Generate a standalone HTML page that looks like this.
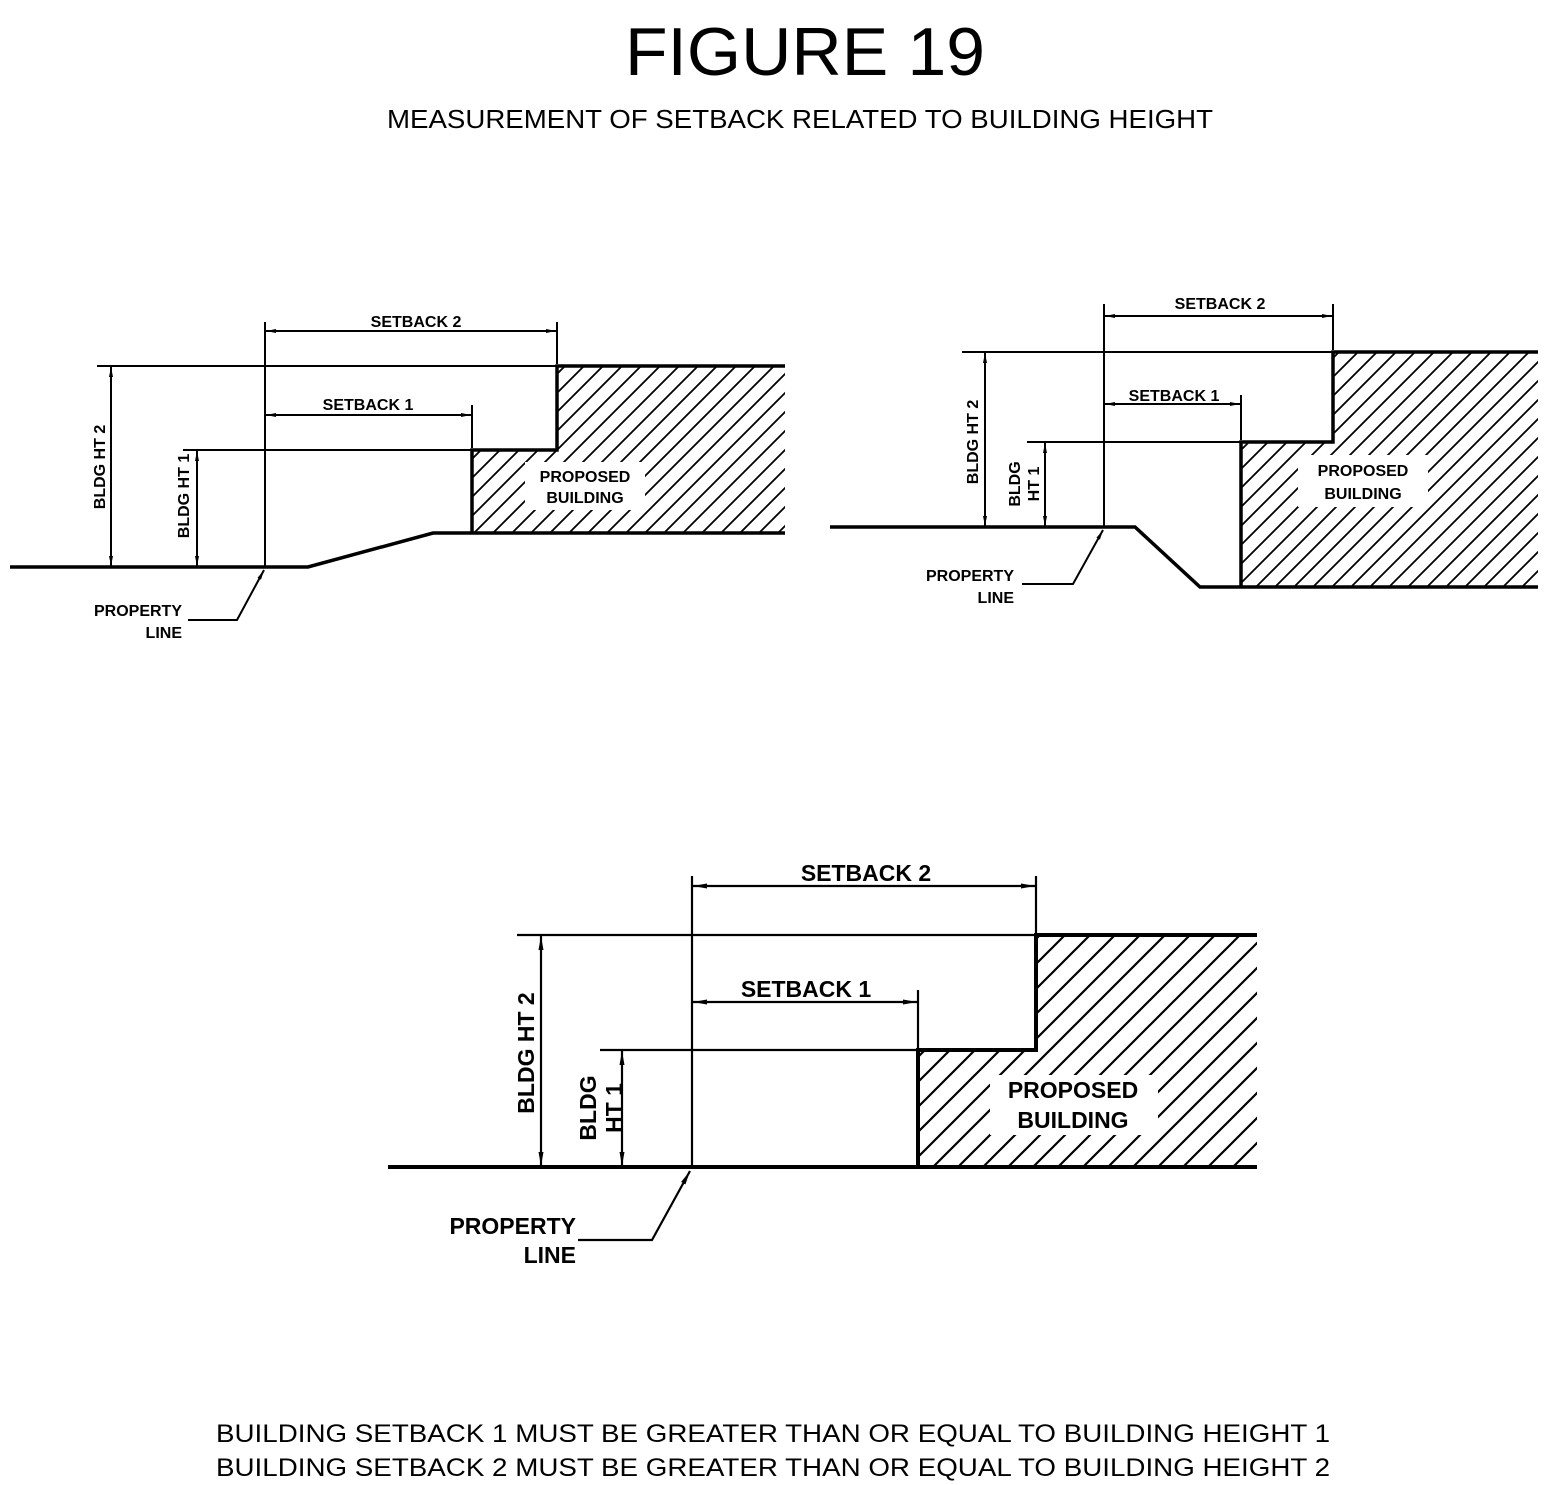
<!DOCTYPE html>
<html><head><style>
html,body{margin:0;padding:0;background:#fff;}
svg{display:block;}
text{font-family:"Liberation Sans",Arial,sans-serif;fill:#000;}
.b{font-weight:bold;}
</style></head><body>
<svg width="1560" height="1485" viewBox="0 0 1560 1485" xmlns="http://www.w3.org/2000/svg">
<defs>
<pattern id="h1" patternUnits="userSpaceOnUse" width="19" height="19">
<path d="M-2,21 L21,-2 M-2,2 L2,-2 M17,21 L21,17" stroke="#000" stroke-width="1.8"/>
</pattern>
<pattern id="h3" patternUnits="userSpaceOnUse" width="25" height="25">
<path d="M-2,27 L27,-2 M-2,2 L2,-2 M23,27 L27,23" stroke="#000" stroke-width="2.2"/>
</pattern>
<marker id="a" viewBox="0 0 10 4" refX="10" refY="2" markerWidth="10" markerHeight="4" markerUnits="userSpaceOnUse" orient="auto-start-reverse">
<path d="M0,0 L10,2 L0,4z" fill="#000"/>
</marker>
<marker id="A" viewBox="0 0 14 5" refX="14" refY="2.5" markerWidth="14" markerHeight="5" markerUnits="userSpaceOnUse" orient="auto-start-reverse">
<path d="M0,0 L14,2.5 L0,5z" fill="#000"/>
</marker>
</defs>

<text x="625" y="75" font-size="68" textLength="360" lengthAdjust="spacingAndGlyphs">FIGURE 19</text>
<text x="387" y="128" font-size="26" textLength="826" lengthAdjust="spacingAndGlyphs">MEASUREMENT OF SETBACK RELATED TO BUILDING HEIGHT</text>

<!-- Diagram 1 -->
<g stroke="#000" fill="none">
<path d="M472,533 L472,450 L557,450 L557,366 L785,366 L785,533 Z" fill="url(#h1)" stroke="none"/>
<rect x="525" y="462" width="120" height="48" fill="#fff" stroke="none"/>
<polyline points="10,567 308,567 433,533 785,533" stroke-width="3.5"/>
<polyline points="472,533 472,450 557,450 557,366 785,366" stroke-width="3.5"/>
<g stroke-width="2">
<line x1="265" y1="322" x2="265" y2="567"/>
<line x1="97" y1="366" x2="557" y2="366"/>
<line x1="183" y1="450" x2="472" y2="450"/>
<line x1="557" y1="322" x2="557" y2="364"/>
<line x1="472" y1="405" x2="472" y2="448"/>
<line x1="111" y1="367" x2="111" y2="566" marker-start="url(#a)" marker-end="url(#a)"/>
<line x1="197" y1="451" x2="197" y2="566" marker-start="url(#a)" marker-end="url(#a)"/>
<line x1="266" y1="331" x2="556" y2="331" marker-start="url(#a)" marker-end="url(#a)"/>
<line x1="266" y1="415" x2="471" y2="415" marker-start="url(#a)" marker-end="url(#a)"/>
<polyline points="188,620 237,620 264,570" marker-end="url(#a)"/>
</g>
</g>
<g class="b" font-size="16" text-anchor="middle">
<text x="416" y="327">SETBACK 2</text>
<text x="368" y="410">SETBACK 1</text>
<text x="585" y="482">PROPOSED</text>
<text x="585" y="503">BUILDING</text>
<text transform="translate(105,467) rotate(-90)">BLDG HT 2</text>
<text transform="translate(189,496) rotate(-90)">BLDG HT 1</text>
<text x="182" y="616" text-anchor="end">PROPERTY</text>
<text x="182" y="638" text-anchor="end">LINE</text>
</g>

<!-- Diagram 2 -->
<g stroke="#000" fill="none">
<path d="M1241,587 L1241,442 L1333,442 L1333,352 L1538,352 L1538,587 Z" fill="url(#h1)" stroke="none"/>
<rect x="1298" y="455" width="130" height="52" fill="#fff" stroke="none"/>
<polyline points="830,527 1135,527 1200,587 1538,587" stroke-width="3.5"/>
<polyline points="1241,587 1241,442 1333,442 1333,352 1538,352" stroke-width="3.5"/>
<g stroke-width="2">
<line x1="1104" y1="304" x2="1104" y2="527"/>
<line x1="962" y1="352" x2="1333" y2="352"/>
<line x1="1027" y1="442" x2="1241" y2="442"/>
<line x1="1333" y1="304" x2="1333" y2="350"/>
<line x1="1241" y1="395" x2="1241" y2="440"/>
<line x1="985" y1="353" x2="985" y2="526" marker-start="url(#a)" marker-end="url(#a)"/>
<line x1="1045" y1="443" x2="1045" y2="526" marker-start="url(#a)" marker-end="url(#a)"/>
<line x1="1105" y1="316" x2="1332" y2="316" marker-start="url(#a)" marker-end="url(#a)"/>
<line x1="1105" y1="404" x2="1240" y2="404" marker-start="url(#a)" marker-end="url(#a)"/>
<polyline points="1022,584 1073,584 1103,530" marker-end="url(#a)"/>
</g>
</g>
<g class="b" font-size="16" text-anchor="middle">
<text x="1220" y="309">SETBACK 2</text>
<text x="1174" y="401">SETBACK 1</text>
<text x="1363" y="476">PROPOSED</text>
<text x="1363" y="499">BUILDING</text>
<text transform="translate(978,442) rotate(-90)">BLDG HT 2</text>
<text transform="translate(1020,484) rotate(-90)">BLDG</text>
<text transform="translate(1039,484) rotate(-90)">HT 1</text>
<text x="1014" y="581" text-anchor="end">PROPERTY</text>
<text x="1014" y="603" text-anchor="end">LINE</text>
</g>

<!-- Diagram 3 -->
<g stroke="#000" fill="none">
<path d="M918,1167 L918,1050 L1036,1050 L1036,935 L1257,935 L1257,1167 Z" fill="url(#h3)" stroke="none"/>
<rect x="990" y="1075" width="168" height="60" fill="#fff" stroke="none"/>
<polyline points="388,1167 1257,1167" stroke-width="4"/>
<polyline points="918,1167 918,1050 1036,1050 1036,935 1257,935" stroke-width="4"/>
<g stroke-width="2.2">
<line x1="692" y1="876" x2="692" y2="1167"/>
<line x1="517" y1="935" x2="1036" y2="935"/>
<line x1="600" y1="1050" x2="918" y2="1050"/>
<line x1="1036" y1="876" x2="1036" y2="933"/>
<line x1="918" y1="990" x2="918" y2="1048"/>
<line x1="541" y1="936" x2="541" y2="1166" marker-start="url(#A)" marker-end="url(#A)"/>
<line x1="622" y1="1051" x2="622" y2="1166" marker-start="url(#A)" marker-end="url(#A)"/>
<line x1="693" y1="886" x2="1035" y2="886" marker-start="url(#A)" marker-end="url(#A)"/>
<line x1="693" y1="1002" x2="917" y2="1002" marker-start="url(#A)" marker-end="url(#A)"/>
<polyline points="578,1240 652,1240 690,1171" marker-end="url(#A)"/>
</g>
</g>
<g class="b" font-size="23" text-anchor="middle">
<text x="866" y="881">SETBACK 2</text>
<text x="806" y="997">SETBACK 1</text>
<text x="1073" y="1098">PROPOSED</text>
<text x="1073" y="1128">BUILDING</text>
<text transform="translate(534,1053) rotate(-90)">BLDG HT 2</text>
<text transform="translate(596,1108) rotate(-90)">BLDG</text>
<text transform="translate(622,1108) rotate(-90)">HT 1</text>
<text x="576" y="1234" text-anchor="end">PROPERTY</text>
<text x="576" y="1263" text-anchor="end">LINE</text>
</g>

<text x="216" y="1442" font-size="25" textLength="1114" lengthAdjust="spacingAndGlyphs">BUILDING SETBACK 1 MUST BE GREATER THAN OR EQUAL TO BUILDING HEIGHT 1</text>
<text x="216" y="1476" font-size="25" textLength="1114" lengthAdjust="spacingAndGlyphs">BUILDING SETBACK 2 MUST BE GREATER THAN OR EQUAL TO BUILDING HEIGHT 2</text>
</svg>
</body></html>
